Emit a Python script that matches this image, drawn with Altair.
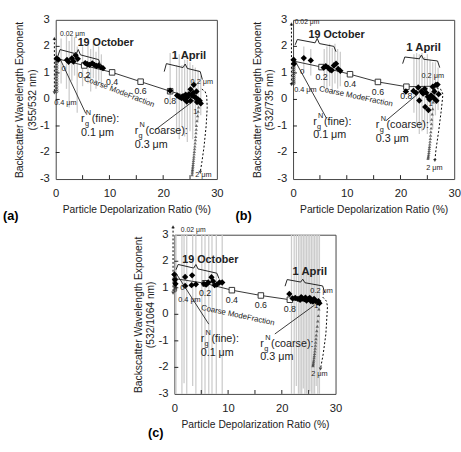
import altair as alt
import pandas as pd

FONT = "Liberation Sans"
INK = "#222222"
W, H = 165, 163  # plot area of each panel

# ---------------- panel (a): 355/532 nm ----------------
a_frac_x = [0.0, 5.3, 10.5, 15.8, 21.3, 26.8]
a_frac_y = [1.55, 1.28, 1.02, 0.67, 0.31, -0.02]
a_oct_x = [0.2, 0.5, 2.1, 2.4, 3.0, 3.3, 3.7, 4.1, 5.5, 5.9, 6.3, 6.8, 7.2, 7.6, 8.0, 8.4, 8.8]
a_oct_y = [1.55, 1.5, 1.49, 1.42, 1.55, 1.43, 1.67, 1.53, 1.37, 1.33, 1.3, 1.36, 1.3, 1.26, 1.28, 1.22, 1.18]
a_apr_x = [21.3, 22.6, 23.0, 23.4, 23.7, 24.0, 24.2, 24.5, 24.8, 25.1, 25.1, 25.4, 25.7, 25.9, 26.1,
           26.3, 26.5, 26.8, 27.0, 24.4, 25.6, 26.2]
a_apr_y = [0.33, 0.15, 0.1, 0.05, 0.12, 0.0, 0.18, 0.08, 0.2, 0.38, -0.05, 0.15, 0.55, 0.1, 0.05,
           -0.1, 0.0, -0.05, -0.15, -0.08, 0.25, 0.3]
a_err_x = [1.0, 2.0, 2.5, 3.0, 3.5, 4.0, 5.0, 6.0, 6.5, 7.0, 7.5, 8.0, 8.5,
           21.3, 22.5, 23.0, 23.5, 24.0, 24.5, 25.0, 25.5, 26.0, 26.5, 27.0]
a_err_lo = [0.6, 0.4, -0.3, 0.7, 0.9, -0.5, 0.5, 0.6, 0.3, 0.8, 0.4, 0.7, 0.5,
            -0.2, -1.2, -1.5, -1.0, -1.4, -1.6, -1.2, -1.5, -1.0, -0.8, -0.6]
a_err_hi = [2.3, 2.4, 2.2, 2.4, 2.35, 2.0, 2.0, 2.05, 1.9, 2.1, 1.8, 2.0, 1.7,
            1.75, 1.3, 1.7, 1.3, 1.5, 1.5, 1.4, 1.3, 1.2, 1.1, 0.9]
a_fine_y = [1.55, 1.46, 1.37, 1.27, 1.18, 1.08, 0.98, 0.88, 0.78, 0.68, 0.58, 0.48, 0.38, 0.3]
a_tri_x = [26.6, 26.5, 26.4, 26.3, 26.2, 26.15, 26.1, 26.05, 26.0, 25.95, 25.9, 25.85, 25.8,
           25.76, 25.72, 25.68, 25.64, 25.6, 25.57, 25.54, 25.5, 25.47, 25.44, 25.42, 25.4]
a_tri_y = [-0.29, -0.45, -0.62, -0.8, -0.98, -1.12, -1.26, -1.4, -1.52, -1.64, -1.76, -1.86, -1.96,
           -2.05, -2.14, -2.22, -2.3, -2.38, -2.45, -2.52, -2.58, -2.64, -2.7, -2.76, -2.84]
a_dash_x = [27.2, 27.8, 28.1, 28.2, 28.0, 27.6, 27.2, 26.9]
a_dash_y = [0.39, 0.3, 0.14, -0.3, -1.0, -1.8, -2.37, -2.75]

# ---------------- panel (b): 532/735 nm ----------------
b_frac_x = [0.0, 5.3, 10.6, 15.8, 21.1, 26.6]
b_frac_y = [1.45, 1.22, 0.95, 0.66, 0.48, 0.5]
b_oct_x = [0.1, 0.2, 2.0, 3.3, 5.7, 6.1, 6.5, 6.9, 7.2, 7.6, 8.0, 8.4, 8.8]
b_oct_y = [1.5, 1.35, 1.56, 1.47, 1.2, 1.25, 1.2, 1.12, 1.1, 1.28, 1.35, 1.15, 1.08]
b_apr_x = [21.0, 22.4, 22.9, 23.3, 23.5, 23.9, 24.2, 24.5, 24.8, 25.1, 25.4, 25.7, 26.0, 26.3,
           26.6, 26.9, 27.1, 24.6, 25.2, 26.2, 26.7]
b_apr_y = [0.3, 0.32, 0.25, 0.45, -0.04, 0.3, 0.22, 0.4, 0.25, 0.1, 0.0, 0.15, 0.48, 0.3,
           0.55, 0.56, 0.2, -0.28, -0.4, 0.05, -0.05]
b_err_x = [2.0, 3.3, 5.8, 6.3, 6.8, 7.3, 7.8, 8.3, 8.8,
           22.5, 23.0, 23.5, 24.0, 24.5, 25.0, 25.5, 26.0, 26.5, 27.0]
b_err_lo = [1.0, 0.9, 0.4, 0.3, 0.5, 0.2, 0.6, 0.4, 0.5,
            -0.5, -1.0, -1.3, -1.2, -1.0, -1.3, -0.9, -1.1, -0.6, -0.4]
b_err_hi = [2.0, 1.9, 1.9, 2.0, 2.1, 1.95, 2.1, 1.9, 1.8,
            1.7, 1.75, 1.7, 1.75, 1.6, 1.7, 1.5, 1.4, 1.4, 1.2]
b_fine_y = [1.45, 1.37, 1.3, 1.22, 1.14, 1.06, 0.98, 0.9, 0.82, 0.74, 0.66, 0.6]
b_tri_x = [26.3, 26.2, 26.1, 26.0, 25.9, 25.8, 25.75, 25.7, 25.65, 25.6, 25.55, 25.5, 25.45,
           25.4, 25.36, 25.32, 25.28, 25.24, 25.2, 25.16, 25.12]
b_tri_y = [0.4, 0.15, -0.1, -0.35, -0.55, -0.75, -0.92, -1.08, -1.22, -1.35, -1.47, -1.58, -1.68,
           -1.77, -1.85, -1.93, -2.0, -2.07, -2.13, -2.18, -2.23]
b_dash_x = [26.7, 27.5, 27.9, 27.6, 27.1, 26.6, 26.4]
b_dash_y = [0.44, 0.38, 0.2, -0.4, -1.2, -1.9, -2.3]

# ---------------- panel (c): 532/1064 nm ----------------
c_frac_x = [0.0, 5.7, 10.7, 16.1, 21.5, 26.8]
c_frac_y = [1.35, 1.17, 0.91, 0.71, 0.55, 0.45]
c_oct_x = [0.0, 0.1, 0.2, 2.0, 2.0, 3.2, 3.3, 4.0, 5.5, 5.9, 6.3, 6.9, 7.2, 7.5, 7.9, 8.4, 8.9]
c_oct_y = [1.5, 1.3, 1.15, 1.41, 1.07, 1.1, 1.47, 1.13, 1.15, 1.12, 1.2, 1.4, 1.25, 1.1, 1.12, 1.2, 1.2]
c_apr_x = [21.4, 22.0, 22.5, 23.0, 23.4, 23.8, 24.2, 24.6, 25.0, 25.4, 25.8, 26.2, 26.6, 27.0,
           23.6, 24.4, 25.2, 26.0, 26.8]
c_apr_y = [0.77, 0.6, 0.62, 0.58, 0.55, 0.6, 0.57, 0.52, 0.58, 0.5, 0.48, 0.52, 0.45, 0.42,
           0.65, 0.63, 0.62, 0.58, 0.5]
c_err_x = [0.3, 1.4, 1.8, 2.3, 3.4, 4.0, 5.1, 5.7, 6.4, 7.0, 7.8, 8.9,
           21.8, 22.3, 22.7, 23.1, 23.4, 23.7, 24.0, 24.3, 24.6, 24.9, 25.2, 25.5, 25.8,
           26.1, 26.4, 26.7, 27.0]
c_err_lo = [-3.0, -3.0, -2.6, -3.0, -2.7, -3.0, -3.0, -3.0, -3.0, -3.0, -3.0, -3.0,
            -3.0, -3.0, -2.7, -3.0, -3.0, -3.0, -2.8, -3.0, -3.0, -3.0, -2.9, -3.0, -3.0,
            -3.0, -2.7, -3.0, -3.0]
c_err_hi = [3.0] * 29
c_fine_y = [1.4, 1.35, 1.3, 1.24, 1.18, 1.12, 1.06, 1.0, 0.94, 0.9]
c_tri_x = [27.0, 26.9, 26.8, 26.7, 26.6, 26.5, 26.4, 26.35, 26.3, 26.25, 26.2, 26.15, 26.1,
           26.05, 26.0, 25.95, 25.9, 25.86, 25.82, 25.8]
c_tri_y = [0.47, 0.2, -0.05, -0.25, -0.45, -0.62, -0.78, -0.92, -1.05, -1.17, -1.28, -1.38, -1.48,
           -1.56, -1.64, -1.72, -1.79, -1.85, -1.9, -1.94]
c_dash_x = [27.6, 28.3, 28.5, 28.2, 27.7, 27.3, 27.2]
c_dash_y = [0.65, 0.5, 0.3, -0.74, -1.5, -1.94, -2.06]

frac_labels = ["0.2", "0.4", "0.6", "0.8"]
y_tick_values = [3, 2, 1, 0, -1, -2, -3]
y_tick_labels = ["3", "2", "1", "0", "-1", "-2", "-3"]

XS = alt.Scale(domain=[0, 30], nice=False, zero=False)
YS = alt.Scale(domain=[-3, 3], nice=False, zero=False)


def xe(field="x", **kw):
    return alt.X(field, type="quantitative", scale=XS, **kw)


def ye(field="y", **kw):
    return alt.Y(field, type="quantitative", scale=YS, **kw)


def txt(x, y, text, size, **kw):
    d = pd.DataFrame({"x": [x], "y": [y], "t": [text]})
    opts = dict(font=FONT, fontSize=size, color=INK)
    opts.update(kw)
    return alt.Chart(d).mark_text(**opts).encode(x=xe(), y=ye(), text="t:N")


def poly(xs, ys, **kw):
    d = pd.DataFrame({"x": xs, "y": ys, "o": list(range(len(xs)))})
    return alt.Chart(d).mark_line(**kw).encode(x=xe(), y=ye(), order="o:Q")


def brace(x0, x1, yl, yr, xm, hook, rise):
    def at(x):
        return yl + (yr - yl) * (x - x0) / (x1 - x0)
    xs = [x0, x0 + 0.4, xm - 0.4, xm, xm + 0.4, x1 - 0.4, x1]
    ys = [yl - hook, yl, at(xm - 0.4), at(xm) + rise, at(xm + 0.4), yr, yr - hook]
    return poly(xs, ys, color=INK, strokeWidth=1)


def rg(x, y, kind, value):
    # r with subscript g and superscript N, then the mode name and the radius below
    return [
        txt(x, y, "r", 11, align="left", baseline="alphabetic"),
        txt(x, y, "g", 7.5, align="left", baseline="alphabetic", dx=4, dy=4),
        txt(x, y, "N", 7.5, align="left", baseline="alphabetic", dx=5, dy=-7),
        txt(x, y, f"({kind}):", 11, align="left", baseline="alphabetic", dx=11),
        txt(x, y, value, 11, align="left", baseline="alphabetic", dy=14),
    ]


def panel(tag, ratio, frac_x, frac_y, oct_x, oct_y, apr_x, apr_y,
          err_x, err_lo, err_hi, fine_x, fine_y, fine_top, fine_bot,
          tri_x, tri_y, dash_x, dash_y, ann):
    err = pd.DataFrame({"x": err_x, "lo": err_lo, "hi": err_hi})
    base = alt.Chart(err).mark_rule(color="#cccccc", strokeWidth=1.3).encode(
        x=xe(axis=alt.Axis(values=[0, 5, 10, 15, 20, 25, 30],
                           labelExpr="datum.value % 10 === 0 ? datum.label : ''",
                           title="Particle Depolarization Ratio (%)",
                           labelPadding=9, titlePadding=6, labelFlush=False,
                           labelOverlap=False)),
        y=ye("lo", axis=alt.Axis(values=[-3, 3], labels=False,
                                 title=["Backscatter Wavelength Exponent", ratio],
                                 titlePadding=19)),
        y2="hi",
    )
    layers = [base]

    # y tick labels
    yl = pd.DataFrame({"y": y_tick_values, "t": y_tick_labels})
    layers.append(alt.Chart(yl).mark_text(font=FONT, fontSize=11.5, color=INK, align="right",
                                          baseline="middle").encode(
        y=ye(), x=alt.value(-6), text="t:N"))

    # inward tick marks
    xt = pd.DataFrame({"x": [5, 10, 15, 20, 25]})
    layers.append(alt.Chart(xt).mark_rule(color=INK).encode(
        x=xe(), y=alt.value(H), y2=alt.value(H - 4)))
    yt = pd.DataFrame({"y": [-2, -1, 0, 1, 2]})
    layers.append(alt.Chart(yt).mark_rule(color=INK).encode(
        y=ye(), x=alt.value(0), x2=alt.value(4)))

    # coarse mode fraction mixing line
    layers.append(poly(frac_x, frac_y, color="#333333", strokeWidth=1))
    sq = pd.DataFrame({"x": frac_x[1:5], "y": frac_y[1:5], "t": frac_labels})
    layers.append(alt.Chart(sq).mark_point(shape="square", size=32, filled=True, fill="white",
                                           stroke="#333333", strokeWidth=1, opacity=1).encode(
        x=xe(), y=ye()))
    layers.append(alt.Chart(sq).mark_text(font=FONT, fontSize=9, color=INK, dy=10).encode(
        x=xe(), y=ye(), text="t:N"))

    # fine-mode size path
    layers.append(poly([fine_x - 0.4, fine_x - 0.4], [fine_top, fine_bot],
                       color="black", strokeWidth=1, strokeDash=[2, 2]))
    arr = pd.DataFrame({"x": [fine_x - 0.4, fine_x - 0.4], "y": [fine_top, fine_bot],
                        "s": ["triangle-up", "triangle-down"]})
    layers.append(alt.Chart(arr).mark_point(filled=True, size=14, color="black").encode(
        x=xe(), y=ye(), shape=alt.Shape("s:N", scale=None)))
    fine = pd.DataFrame({"x": [fine_x] * len(fine_y), "y": fine_y})
    layers.append(alt.Chart(fine).mark_point(shape="circle", size=9, color="#222222",
                                             strokeWidth=0.9).encode(x=xe(), y=ye()))

    # coarse-mode size path
    layers.append(poly(dash_x, dash_y, color="black", strokeWidth=1, strokeDash=[2, 2]))
    tip = pd.DataFrame({"x": [dash_x[-1]], "y": [dash_y[-1]]})
    layers.append(alt.Chart(tip).mark_point(shape="triangle-down", filled=True, size=14,
                                            color="black").encode(x=xe(), y=ye()))
    tri = pd.DataFrame({"x": tri_x, "y": tri_y})
    layers.append(alt.Chart(tri).mark_point(shape="triangle-up", size=12, filled=True,
                                            color="#333333").encode(x=xe(), y=ye()))

    # measurements
    obs = pd.DataFrame({"x": oct_x + apr_x, "y": oct_y + apr_y})
    layers.append(alt.Chart(obs).mark_point(shape="diamond", size=42, filled=True,
                                            color="black", opacity=1).encode(x=xe(), y=ye()))

    # braces and annotations
    layers.append(brace(*ann["oct_brace"]))
    layers.append(brace(*ann["apr_brace"]))
    layers.append(txt(*ann["oct_txt"], "19 October", 11, fontWeight="bold"))
    layers.append(txt(*ann["apr_txt"], "1 April", 11.5, fontWeight="bold"))
    layers.append(txt(*ann["cmf"], "Coarse ModeFraction", 8, angle=ann["cmf_angle"]))
    layers.append(txt(*ann["zero"], "0", 8))
    layers.append(txt(*ann["s002"], "0.02 μm", 7, align="left"))
    layers.append(txt(*ann["s04"], "0.4 μm", 7.5))
    layers.append(txt(*ann["s02"], "0.2 μm", 7.5))
    layers.append(txt(*ann["s2"], "2 μm", 7.5))
    layers.append(txt(*ann["s1"], "1", 8))
    layers.append(poly(*ann["fine_ptr"], color=INK, strokeWidth=0.9))
    layers.append(poly(*ann["coarse_ptr"], color=INK, strokeWidth=0.9))
    layers += rg(*ann["fine_lbl"], "fine", "0.1 μm")
    layers += rg(*ann["coarse_lbl"], "coarse", "0.3 μm")

    # panel tag
    tagdf = pd.DataFrame({"t": [tag]})
    layers.append(alt.Chart(tagdf).mark_text(font=FONT, fontSize=13, fontWeight="bold",
                                             color="black", align="left").encode(
        x=alt.value(ann["tag_dx"]), y=alt.value(H + ann["tag_dy"]), text="t:N"))

    return alt.layer(*layers).properties(width=W, height=H)


ann_a = dict(
    oct_brace=(0.4, 8.4, 1.88, 1.5, 4.2, 0.25, 0.18),
    apr_brace=(20.2, 27.3, 1.35, 1.05, 24.1, 0.3, 0.15),
    oct_txt=(9.3, 2.13), apr_txt=(24.8, 1.65),
    cmf=(11.8, 0.28), cmf_angle=21, zero=(1.5, 1.15),
    s002=(0.8, 2.45), s04=(1.8, -0.13), s02=(27.2, 0.67), s2=(27.5, -2.85), s1=(26.0, -0.47),
    fine_ptr=([0.9, 5.6], [1.49, -0.53]), coarse_ptr=([18.5, 26.0], [-1.15, 0.0]),
    fine_lbl=(4.7, -0.85), coarse_lbl=(14.7, -1.3),
    tag_dx=-54, tag_dy=38,
)
ann_b = dict(
    oct_brace=(0.4, 8.0, 2.26, 2.0, 4.5, 0.2, 0.18),
    apr_brace=(20.4, 27.3, 1.6, 1.45, 23.9, 0.25, 0.15),
    oct_txt=(8.1, 2.41), apr_txt=(24.3, 1.92),
    cmf=(11.7, 0.1), cmf_angle=12, zero=(1.7, 1.05),
    s002=(0.3, 2.9), s04=(2.3, 0.35), s02=(26.0, 0.87), s2=(26.3, -2.6), s1=(25.6, -0.16),
    fine_ptr=([0.5, 6.2], [1.41, -0.7]), coarse_ptr=([17.3, 23.2], [-0.8, 0.2]),
    fine_lbl=(3.75, -0.95), coarse_lbl=(15.4, -1.08),
    tag_dx=-59, tag_dy=38,
)
ann_c = dict(
    oct_brace=(0.3, 8.3, 1.88, 1.55, 4.0, 0.2, 0.15),
    apr_brace=(20.6, 28.0, 1.31, 1.07, 23.9, 0.25, 0.12),
    oct_txt=(6.7, 2.03), apr_txt=(25.2, 1.61),
    cmf=(11.8, -0.05), cmf_angle=12, zero=(1.5, 1.0),
    s002=(1.2, 3.18), s04=(2.8, 0.55), s02=(27.4, 0.89), s2=(27.0, -2.26), s1=(26.4, 0.3),
    fine_ptr=([0.3, 6.4], [1.55, -0.37]), coarse_ptr=([18.7, 26.1], [-0.74, 0.35]),
    fine_lbl=(4.9, -1.05), coarse_lbl=(16.0, -1.22),
    tag_dx=-27, tag_dy=40,
)

pa = panel("(a)", "(355/532 nm)", a_frac_x, a_frac_y, a_oct_x, a_oct_y, a_apr_x, a_apr_y,
           a_err_x, a_err_lo, a_err_hi, 0.15, a_fine_y, 2.3, 0.25,
           a_tri_x, a_tri_y, a_dash_x, a_dash_y, ann_a)
pb = panel("(b)", "(532/735 nm)", b_frac_x, b_frac_y, b_oct_x, b_oct_y, b_apr_x, b_apr_y,
           b_err_x, b_err_lo, b_err_hi, 0.1, b_fine_y, 2.85, 0.56,
           b_tri_x, b_tri_y, b_dash_x, b_dash_y, ann_b)
pc = panel("(c)", "(532/1064 nm)", c_frac_x, c_frac_y, c_oct_x, c_oct_y, c_apr_x, c_apr_y,
           c_err_x, c_err_lo, c_err_hi, 0.15, c_fine_y, 3.3, 0.8,
           c_tri_x, c_tri_y, c_dash_x, c_dash_y, ann_c)

top = alt.hconcat(pa, pb, spacing=11)
chart = alt.vconcat(top, pc, spacing=0, center=True).properties(
    padding={"left": 2, "top": 8, "right": 0, "bottom": 0}
).configure_view(
    stroke="#444444", strokeWidth=1
).configure_axis(
    labelFont=FONT, labelFontSize=11.5, labelColor=INK,
    titleFont=FONT, titleFontSize=10.5, titleFontWeight="normal", titleColor=INK,
    labelAngle=0, grid=False, ticks=False, domain=False,
)

chart.save("out.html", embed_options={"renderer": "svg", "actions": False})
